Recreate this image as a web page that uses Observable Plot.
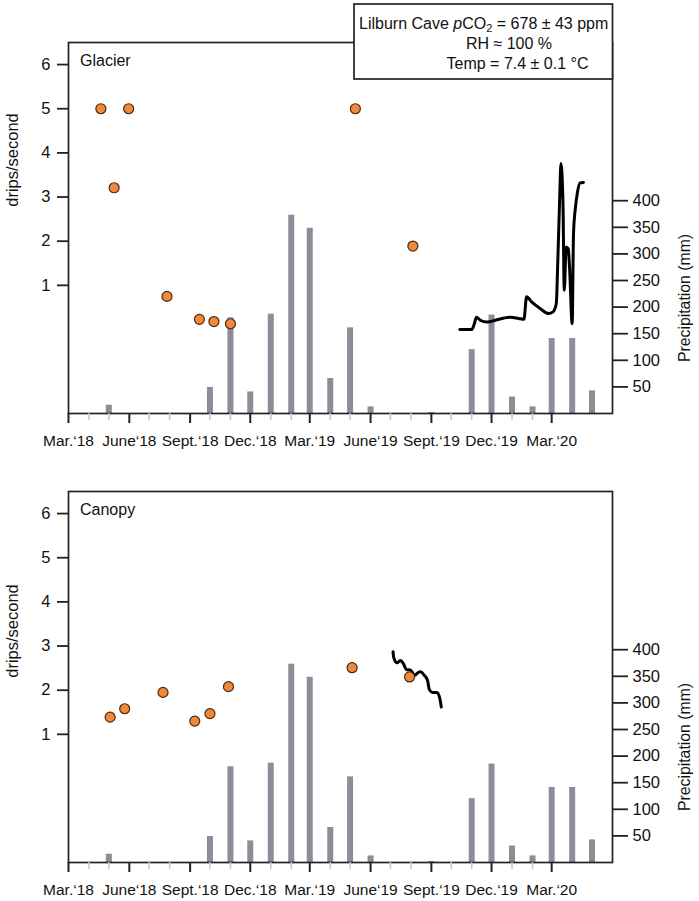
<!DOCTYPE html>
<html><head><meta charset="utf-8">
<script src="https://cdn.jsdelivr.net/npm/d3@7"></script>
<script src="https://cdn.jsdelivr.net/npm/@observablehq/plot@0.6"></script>
<style>
body{margin:0;background:#fff;}
#chart{width:699px;}
#chart svg{display:block;}
</style></head><body><div id="chart"></div>
<script>
// ---- data ----
const precipMonths = ["2018-03-01","2018-04-01","2018-05-01","2018-06-01","2018-07-01","2018-08-01","2018-09-01","2018-10-01","2018-11-01","2018-12-01",
  "2019-01-01","2019-02-01","2019-03-01","2019-04-01","2019-05-01","2019-06-01","2019-07-01","2019-08-01","2019-09-01","2019-10-01","2019-11-01","2019-12-01",
  "2020-01-01","2020-02-01","2020-03-01","2020-04-01","2020-05-01"];
const precipMM = [0,0,15.6,0,0,0,0,49,180,40.6,
  186.7,372.7,348,65.8,161,12.4,0,0,2,0,120,185,
  31,12.4,141,141,42.5];

const glacierDates = ["2018-04-19","2018-05-09","2018-05-31","2018-07-28","2018-09-15","2018-10-07","2018-11-01","2019-05-09","2019-08-04"];
const glacierRate = [5, 3.21, 5, 0.75, 0.23, 0.18, 0.13, 5, 1.89];

const glacierLoggerDates = ["2019-10-14","2019-11-01","2019-11-05","2019-11-08","2019-11-14","2019-11-24","2019-12-07","2019-12-20","2019-12-30",
  "2020-01-11","2020-01-19","2020-01-23","2020-01-31","2020-02-13","2020-02-25","2020-03-03","2020-03-08","2020-03-10","2020-03-13",
  "2020-03-15","2020-03-18","2020-03-20","2020-03-23","2020-03-26","2020-03-28","2020-04-01","2020-04-03","2020-04-06","2020-04-09",
  "2020-04-13","2020-04-18"];
const glacierLoggerRate = [0.0,0.0,0.13,0.28,0.21,0.17,0.21,0.26,0.28,
  0.25,0.23,0.74,0.62,0.47,0.36,0.40,0.59,1.42,2.93,
  3.76,2.93,0.89,1.87,1.83,1.42,0.13,2.17,2.77,3.11,
  3.32,3.33];

const canopyDates = ["2018-05-03","2018-05-25","2018-07-22","2018-09-08","2018-10-01","2018-10-29","2019-05-04","2019-07-30"];
const canopyRate = [1.39, 1.58, 1.95, 1.30, 1.47, 2.08, 2.51, 2.30];

const canopyLoggerDates = ["2019-07-05","2019-07-06","2019-07-11","2019-07-16","2019-07-21","2019-07-25","2019-07-31","2019-08-07","2019-08-12",
  "2019-08-16","2019-08-21","2019-08-26","2019-08-29","2019-09-03","2019-09-09","2019-09-13","2019-09-16"];
const canopyLoggerRate = [2.87,2.74,2.62,2.67,2.59,2.47,2.46,2.34,2.40,
  2.42,2.34,2.23,2.01,1.95,1.95,1.86,1.62];

const xTickDates = ["2018-03-01","2018-06-01","2018-09-01","2018-12-01","2019-03-01","2019-06-01","2019-09-01","2019-12-01","2020-03-01"];
const xTickLabels = ["Mar.\u201818","June\u201818","Sept.\u201818","Dec.\u201818","Mar.\u201819","June\u201819","Sept.\u201819","Dec.\u201819","Mar.\u201820"];
const minorTickDates = ["2018-04-01","2018-05-01","2018-07-01","2018-08-01","2018-10-01","2018-11-01","2019-01-01","2019-02-01",
  "2019-04-01","2019-05-01","2019-07-01","2019-08-01","2019-10-01","2019-11-01","2020-01-01","2020-02-01"];
const dripTicks = [1,2,3,4,5,6];
const dripTickLabels = ["1","2","3","4","5","6"];
const precipTicks = [50,100,150,200,250,300,350,400];

// ---- helpers ----
const FONT = "'Liberation Sans', Arial, sans-serif";
// the drips/second axis shares the plot with precipitation (mm): linear mapping
const DRIP0 = 157.9, DRIP_STEP = 83.0;
const toMM = v => DRIP0 + DRIP_STEP * v;
const majorTicks = xTickDates.map(d => new Date(d));
const minorTicks = minorTickDates.map(d => new Date(d));
const labelOf = new Map(majorTicks.map((d, i) => [+d, xTickLabels[i]]));
const dripLabelOf = new Map(dripTicks.map((v, i) => [Math.round(toMM(v) * 1000), dripTickLabels[i]]));

function addText(svg, {x, y, text, anchor = "start", rotate = 0, size = 16}) {
  return d3.select(svg).append("text")
    .attr("transform", `translate(${x},${y}) rotate(${rotate})`)
    .attr("text-anchor", anchor)
    .attr("font-family", FONT)
    .attr("font-size", size)
    .attr("fill", "#111")
    .text(text);
}

function panel({dates, rates, loggerDates, loggerRates}) {
  const bars = precipMonths.map((m, i) => ({date: new Date(m), mm: precipMM[i]})).filter(d => d.mm > 0);
  const pts = dates.map((d, i) => ({date: new Date(d), v: rates[i]}));
  const line = loggerDates.map((d, i) => ({date: new Date(d), v: loggerRates[i]}));
  return Plot.plot({
    width: 699, height: 449,
    marginLeft: 68, marginRight: 87, marginTop: 42, marginBottom: 36,
    style: {fontFamily: FONT, fontSize: "16px", color: "#111", background: "white", overflow: "visible"},
    x: {type: "utc", domain: [new Date("2018-03-01"), new Date("2020-06-01")], label: null},
    y: {domain: [0, 697.4], label: null},
    marks: [
      Plot.ruleX(bars, {x: "date", y1: 0, y2: "mm", stroke: "#8b8d98", strokeWidth: 6}),
      Plot.line(line, {x: "date", y: d => toMM(d.v), stroke: "#000", strokeWidth: 3, curve: "monotone-x", strokeLinejoin: "round"}),
      Plot.dot(pts, {x: "date", y: d => toMM(d.v), r: 5, fill: "#ef8a3c", stroke: "#4a2a10", strokeWidth: 1.2}),
      Plot.frame({stroke: "#222", strokeWidth: 1.7}),
      Plot.axisX({ticks: minorTicks, tickSize: 7, tickFormat: () => "", stroke: "#c6c6c6", strokeWidth: 1.5, label: null}),
      Plot.axisX({ticks: majorTicks, tickSize: 10, tickPadding: 11, tickFormat: d => labelOf.get(+d), stroke: "#222", strokeWidth: 2, fontSize: 15.5, label: null}),
      Plot.axisY({anchor: "left", ticks: dripTicks.map(toMM), tickFormat: d => dripLabelOf.get(Math.round(d * 1000)), tickSize: 11, tickPadding: 7, stroke: "#222", strokeWidth: 1.8, fontSize: 16.5, label: null}),
      Plot.axisY({anchor: "right", ticks: precipTicks, tickSize: 15, tickPadding: 5, stroke: "#222", strokeWidth: 1.8, fontSize: 16.5, label: null})
    ]
  });
}

const chart = document.getElementById("chart");

// ---- top panel: Glacier ----
const topSvg = panel({dates: glacierDates, rates: glacierRate, loggerDates: glacierLoggerDates, loggerRates: glacierLoggerRate});
chart.appendChild(topSvg);
addText(topSvg, {x: 80, y: 66, text: "Glacier", size: 16});
addText(topSvg, {x: 18, y: 160, text: "drips/second", anchor: "middle", rotate: -90, size: 16.5});
addText(topSvg, {x: 690, y: 298, text: "Precipitation (mm)", anchor: "middle", rotate: -90, size: 15.8});
// info box
const box = d3.select(topSvg).append("g");
box.append("rect").attr("x", 354).attr("y", 4).attr("width", 258.5).attr("height", 75)
  .attr("fill", "white").attr("stroke", "#222").attr("stroke-width", 1.7);
const t1 = box.append("text").attr("x", 483.7).attr("y", 29).attr("text-anchor", "middle")
  .attr("font-family", FONT).attr("font-size", 16).attr("fill", "#111");
t1.append("tspan").text("Lilburn Cave ");
t1.append("tspan").attr("font-style", "italic").text("p");
t1.append("tspan").text("CO");
t1.append("tspan").attr("font-size", 11).attr("dy", 3).text("2");
t1.append("tspan").attr("dy", -3).text(" = 678 \u00b1 43 ppm");
box.append("text").attr("x", 509).attr("y", 49).attr("text-anchor", "middle")
  .attr("font-family", FONT).attr("font-size", 16).attr("fill", "#111").text("RH \u2248 100 %");
box.append("text").attr("x", 517.5).attr("y", 69).attr("text-anchor", "middle")
  .attr("font-family", FONT).attr("font-size", 16).attr("fill", "#111").text("Temp = 7.4 \u00b1 0.1 \u00b0C");

// ---- bottom panel: Canopy ----
const bottomSvg = panel({dates: canopyDates, rates: canopyRate, loggerDates: canopyLoggerDates, loggerRates: canopyLoggerRate});
chart.appendChild(bottomSvg);
addText(bottomSvg, {x: 80, y: 65.5, text: "Canopy", size: 16});
addText(bottomSvg, {x: 18, y: 182, text: "drips/second", anchor: "middle", rotate: -90, size: 16.5});
addText(bottomSvg, {x: 690, y: 298, text: "Precipitation (mm)", anchor: "middle", rotate: -90, size: 15.8});
</script></body></html>
